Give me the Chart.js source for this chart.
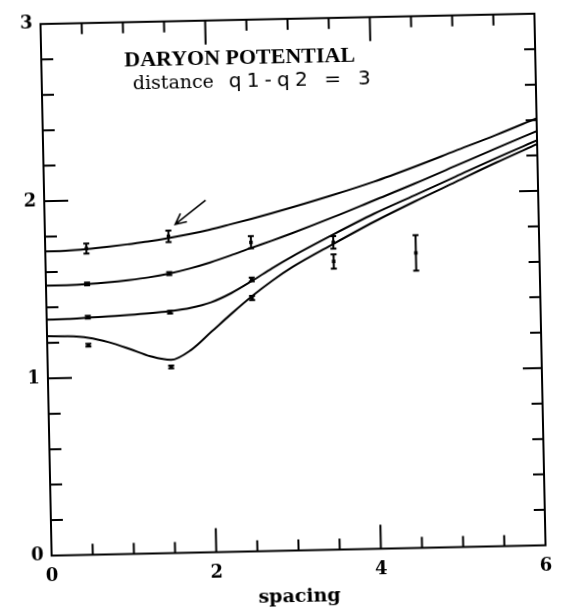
<!DOCTYPE html>
<html lang="en">
<head>
<meta charset="UTF-8">
<title>Baryon potential</title>
<script src="https://cdn.jsdelivr.net/npm/chart.js"></script>
<style>
  html, body { margin: 0; padding: 0; background: #fff; overflow: hidden; }
  /* the scanned figure is tilted a little, so the whole canvas is too */
  #wrap { width: 561px; height: 608px; transform-origin: 293px 284px; transform: rotate(-1.2deg); }
</style>
</head>
<body>
<div id="wrap"><canvas id="myChart" width="561" height="608"></canvas></div>
<script>
// smooth curves
const curveX = [0, 0.25, 0.5, 0.75, 1, 1.25, 1.5, 1.75, 2, 2.25, 2.5, 2.75, 3, 3.5, 4, 4.5, 5, 5.5, 6];
const curve1 = [1.716, 1.718, 1.725, 1.735, 1.747, 1.76, 1.777, 1.797, 1.82, 1.847, 1.875, 1.904, 1.935, 2.0, 2.07, 2.15, 2.235, 2.32, 2.41];
const curve2 = [1.523, 1.524, 1.528, 1.535, 1.545, 1.558, 1.577, 1.603, 1.635, 1.672, 1.712, 1.75, 1.79, 1.875, 1.965, 2.055, 2.15, 2.245, 2.338];
const curve3 = [1.332, 1.333, 1.338, 1.343, 1.348, 1.355, 1.365, 1.381, 1.41, 1.46, 1.525, 1.595, 1.66, 1.778, 1.89, 1.99, 2.09, 2.19, 2.285];
const curve4 = [1.238, 1.236, 1.225, 1.197, 1.157, 1.113, 1.09, 1.145, 1.245, 1.345, 1.44, 1.525, 1.6, 1.725, 1.845, 1.955, 2.06, 2.165, 2.264];

// measured points with error bars
const markX = [0.5, 0.5, 0.5, 0.5, 1.5, 1.5, 1.5, 1.5, 2.5, 2.5, 2.5, 3.5, 3.5, 4.5];
const markY = [1.728, 1.528, 1.341, 1.183, 1.787, 1.577, 1.359, 1.05, 1.744, 1.534, 1.43, 1.734, 1.626, 1.665];
const markErr = [0.028, 0.008, 0.008, 0.008, 0.032, 0.008, 0.008, 0.008, 0.035, 0.01, 0.012, 0.035, 0.04, 0.1];

// arrow pointing at the point at spacing 1.5
const arrowFrom = [1.96, 1.987];
const arrowTo = [1.585, 1.854];

const xTickLabels = [0, 2, 4, 6];
const yTickLabels = [0, 1, 2, 3];
const xTicks = [0.5, 1, 1.5, 2, 2.5, 3, 3.5, 4, 4.5, 5, 5.5];
const yTicks = [0.2, 0.4, 0.6, 0.8, 1, 1.2, 1.4, 1.6, 1.8, 2, 2.2, 2.4, 2.6, 2.8];

function toPoints(xs, ys) {
    return xs.map((x, i) => ({ x: x, y: ys[i] }));
}

function curveSet(values) {
    return {
        data: toPoints(curveX, values),
        showLine: true,
        borderColor: '#000',
        borderWidth: 2,
        pointRadius: 0,
        cubicInterpolationMode: 'monotone',
    };
}

// frame, inward ticks, error bars, arrow and the text inside the plot
const paperPlugin = {
    id: 'paper',
    afterDatasetsDraw(chart) {
        const ctx = chart.ctx;
        const area = chart.chartArea;
        const xs = chart.scales.x;
        const ys = chart.scales.y;
        ctx.save();
        ctx.strokeStyle = '#000';
        ctx.lineWidth = 2;
        ctx.strokeRect(area.left, area.top, area.right - area.left, area.bottom - area.top);

        ctx.beginPath();
        xTicks.forEach(v => {
            const px = xs.getPixelForValue(v);
            const len = (v % 2 === 0) ? 24 : 11;
            ctx.moveTo(px, area.bottom); ctx.lineTo(px, area.bottom - len);
            ctx.moveTo(px, area.top); ctx.lineTo(px, area.top + len);
        });
        yTicks.forEach(v => {
            const py = ys.getPixelForValue(v);
            const major = Math.abs(v - Math.round(v)) < 1e-6;
            ctx.moveTo(area.left, py); ctx.lineTo(area.left + (major ? 24 : 12), py);
            ctx.moveTo(area.right, py); ctx.lineTo(area.right - (major ? 19 : 11), py);
        });
        ctx.stroke();

        // error bars
        ctx.beginPath();
        markX.forEach((x, i) => {
            const px = xs.getPixelForValue(x);
            const top = ys.getPixelForValue(markY[i] + markErr[i]);
            const bot = ys.getPixelForValue(markY[i] - markErr[i]);
            ctx.moveTo(px, top); ctx.lineTo(px, bot);
            ctx.moveTo(px - 3, top); ctx.lineTo(px + 3, top);
            ctx.moveTo(px - 3, bot); ctx.lineTo(px + 3, bot);
        });
        ctx.stroke();

        // arrow
        const ax0 = xs.getPixelForValue(arrowFrom[0]), ay0 = ys.getPixelForValue(arrowFrom[1]);
        const ax1 = xs.getPixelForValue(arrowTo[0]), ay1 = ys.getPixelForValue(arrowTo[1]);
        const ang = Math.atan2(ay1 - ay0, ax1 - ax0);
        ctx.lineWidth = 1.6;
        ctx.beginPath();
        ctx.moveTo(ax0, ay0); ctx.lineTo(ax1, ay1);
        ctx.moveTo(ax1 - 12 * Math.cos(ang - 0.45), ay1 - 12 * Math.sin(ang - 0.45));
        ctx.lineTo(ax1, ay1);
        ctx.lineTo(ax1 - 12 * Math.cos(ang + 0.45), ay1 - 12 * Math.sin(ang + 0.45));
        ctx.stroke();

        // text
        ctx.fillStyle = '#000';
        ctx.textBaseline = 'alphabetic';
        ctx.textAlign = 'left';
        ctx.font = 'bold 22px "Liberation Serif"';
        ctx.letterSpacing = '0px';
        ctx.fillText('DARYON POTENTIAL', area.left + 83, area.top + 44);
        ctx.font = '19px "DejaVu Serif"';
        ctx.fillText('distance', area.left + 91, area.top + 67);
        ctx.font = '20px "DejaVu Sans"';
        const rest = 'q1-q2 = 3';
        const w = ctx.measureText(rest).width;
        const gap = (142 - w) / (rest.length - 1);
        ctx.letterSpacing = gap.toFixed(1) + 'px';
        ctx.fillText(rest, area.left + 187, area.top + 67);
        ctx.restore();
    }
};

const tickFont = { family: 'DejaVu Serif', weight: 'bold', size: 18 };

const ctx = document.getElementById('myChart').getContext('2d');
const myChart = new Chart(ctx, {
    type: 'scatter',
    data: {
        datasets: [
            curveSet(curve1),
            curveSet(curve2),
            curveSet(curve3),
            curveSet(curve4),
            {
                data: toPoints(markX, markY),
                pointStyle: 'rect',
                pointRadius: 2.5,
                backgroundColor: '#000',
                borderColor: '#000',
                borderWidth: 0,
            }
        ]
    },
    options: {
        responsive: false,
        animation: false,
        layout: { padding: { top: 17.5, right: 21, left: 0, bottom: 0 } },
        plugins: { legend: { display: false }, tooltip: { enabled: false } },
        scales: {
            x: {
                type: 'linear',
                min: 0,
                max: 6,
                grid: { display: false, drawTicks: false },
                border: { display: false },
                afterBuildTicks: s => { s.ticks = xTickLabels.map(v => ({ value: v })); },
                afterFit: s => { s.height = 57.5; },
                ticks: { color: '#000', font: tickFont, padding: 10, maxRotation: 0 },
                title: {
                    display: true,
                    text: 'spacing',
                    color: '#000',
                    font: { family: 'DejaVu Serif', weight: 'bold', size: 19 },
                    padding: { top: 0, bottom: 0 }
                }
            },
            y: {
                type: 'linear',
                min: 0,
                max: 3,
                grid: { display: false, drawTicks: false },
                border: { display: false },
                afterBuildTicks: s => { s.ticks = yTickLabels.map(v => ({ value: v })); },
                afterFit: s => { s.width = 46; },
                ticks: { color: '#000', font: tickFont, padding: 8 }
            }
        }
    },
    plugins: [paperPlugin]
});
</script>
</body>
</html>
